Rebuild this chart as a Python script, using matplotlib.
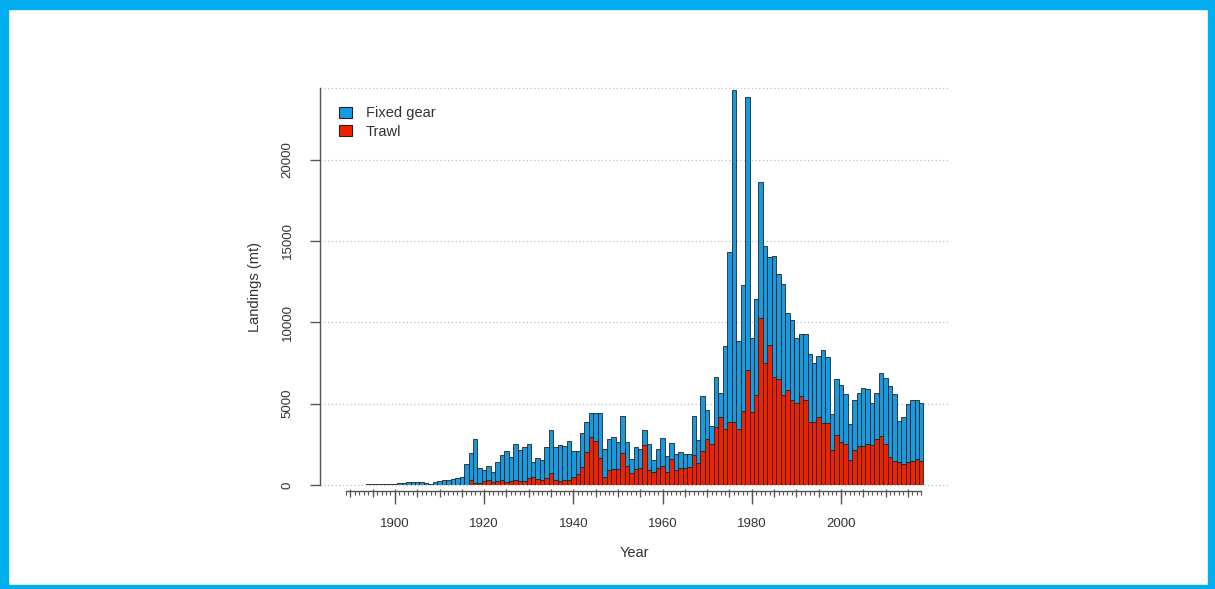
import numpy as np
import matplotlib
matplotlib.use("Agg")
import matplotlib.pyplot as plt
from matplotlib.patches import Patch, Rectangle
from matplotlib.ticker import MultipleLocator, FixedLocator

plt.rcParams['font.family'] = ['Liberation Sans', 'DejaVu Sans']

years = np.arange(1889, 2019)

# total landings (mt), 1889-2018
total = [
    20, 20, 30, 30, 30, 40, 40, 50, 60, 70, 80,                      # 1889-1899
    90, 100, 110, 170, 190, 180, 170, 120, 90, 200,                  # 1900s
    250, 290, 320, 380, 420, 480, 1320, 1970, 2850, 1020,            # 1910s
    900, 1160, 800, 1430, 1820, 2100, 1720, 2500, 2180, 2340,        # 1920s
    2530, 1410, 1660, 1530, 2350, 3350, 2310, 2450, 2420, 2720,      # 1930s
    2100, 2100, 3200, 3880, 4420, 4400, 4400, 2200, 2820, 2920,      # 1940s
    2620, 4250, 2640, 1620, 2320, 2200, 3400, 2540, 1510, 2230,      # 1950s
    2870, 1790, 2590, 1900, 2050, 1920, 1880, 4260, 2740, 5480,      # 1960s
    4580, 3610, 6620, 5640, 8570, 14300, 24300, 8880, 12290, 23850,  # 1970s
    9060, 11450, 18610, 14660, 14000, 14100, 12990, 12370, 10570, 10160,  # 1980s
    9060, 9300, 9300, 8080, 7500, 7910, 8280, 7870, 4350, 6520,      # 1990s
    6150, 5580, 3740, 5215, 5685, 5950, 5890, 5070, 5640, 6910,      # 2000s
    6560, 6090, 5580, 3950, 4150, 4970, 5235, 5235, 5010,            # 2010-2018
]

trawl = [
    0, 0, 0, 0, 0, 0, 0, 0, 0, 0, 0,
    0, 0, 0, 0, 0, 0, 0, 0, 0, 0,
    0, 0, 0, 0, 0, 0, 0, 330, 150, 100,
    270, 300, 160, 230, 280, 200, 260, 320, 270, 250,
    450, 470, 350, 320, 450, 750, 300, 270, 280, 320,
    520, 650, 1100, 2000, 2950, 2720, 1680, 520, 950, 960,
    980, 1950, 1150, 750, 1000, 1020, 2430, 920, 820, 1020,
    1170, 820, 1570, 920, 1060, 1060, 1120, 1820, 1350, 2080,
    2820, 2520, 3560, 4170, 3440, 3900, 3850, 3440, 4530, 7080,
    4500, 5520, 10290, 7500, 8590, 6650, 6545, 5520, 5830, 5215,
    5010, 5460, 5215, 3885, 3885, 4190, 3780, 3780, 2180, 3100,
    2620, 2515, 1555, 2150, 2415, 2370, 2515, 2475, 2820, 3030,
    2515, 1740, 1490, 1390, 1290, 1430, 1450, 1595, 1490,
]

total = np.array(total)
trawl = np.array(trawl)
fixed_gear = total - trawl

series_labels = ["Fixed gear", "Trawl"]
blue = "#179ADF"
red = "#EE2200"
ytick_vals = [0, 5000, 10000, 15000, 20000]
label_years = [1900, 1920, 1940, 1960, 1980, 2000]

W, H = 1215, 589
fig = plt.figure(figsize=(W / 100, H / 100), dpi=100)
ax = fig.add_axes([320 / W, (H - 485) / H, (948 - 320) / W, 397 / H])

ymax = 24400
ax.set_ylim(0, ymax)
ax.set_xlim(1883.2, 2024.0)

# grid first so bars sit on top
for v in ytick_vals + [ymax]:
    ax.axhline(v, color="#BDBDBD", lw=0.9, ls=(0, (1, 2)), zorder=0, clip_on=False)

ax.bar(years, trawl, width=1.0, color=red, edgecolor="#222222", linewidth=0.6, zorder=2)
ax.bar(years, fixed_gear, bottom=trawl, width=1.0, color=blue,
       edgecolor="#222222", linewidth=0.6, zorder=2)

for s in ["top", "right"]:
    ax.spines[s].set_visible(False)
ax.spines["left"].set_bounds(0, ymax)
ax.spines["bottom"].set_bounds(years[0], years[-1])
ax.spines["bottom"].set_position(("outward", 4))
for s in ["left", "bottom"]:
    ax.spines[s].set_color("#555555")
    ax.spines[s].set_linewidth(1.0)

ax.set_yticks(ytick_vals)
ax.set_yticklabels([str(v) for v in ytick_vals], rotation=90, va="center")
ax.tick_params(axis="y", length=7, width=1.0, color="#555555", pad=12,
               labelsize=9.5, labelcolor="#333333")

ax.xaxis.set_major_locator(FixedLocator(label_years))
ax.xaxis.set_minor_locator(FixedLocator(list(years)))
ax.set_xticklabels([str(y) for y in label_years])
ax.tick_params(axis="x", which="major", length=9, width=1.0, color="#555555",
               pad=11, labelsize=9.5, labelcolor="#333333")
ax.tick_params(axis="x", which="minor", length=3, width=0.8, color="#555555")

# 5-year ticks of medium length
sec = ax.secondary_xaxis(-4 / 397)
sec.set_xticks([y for y in years if y % 5 == 0])
sec.tick_params(length=6, width=0.9, color="#555555", labelbottom=False)
sec.spines["bottom"].set_visible(False)

fig.text(634 / W, 1 - 553 / H, "Year", ha="center", va="center",
         fontsize=10.5, color="#333333")
fig.text(255 / W, 1 - 287 / H, "Landings (mt)", ha="center", va="center",
         rotation=90, fontsize=10.5, color="#333333")

handles = [Patch(facecolor=blue, edgecolor="#222222", linewidth=0.8),
           Patch(facecolor=red, edgecolor="#222222", linewidth=0.8)]
ax.legend(handles, series_labels, loc="upper left",
          bbox_to_anchor=((332 - 320) / 628, (485 - 99) / 397),
          frameon=False, borderpad=0, handlelength=0.9, handleheight=0.75,
          handletextpad=0.9, labelspacing=0.3, fontsize=10.5, labelcolor="#333333")

# cyan frame around the figure
cyan = "#00AEEF"
fig.patches.append(Rectangle((0, 1 - 9 / H), 1, 9 / H, transform=fig.transFigure, color=cyan))
fig.patches.append(Rectangle((0, 0), 8 / W, 1, transform=fig.transFigure, color=cyan))
fig.patches.append(Rectangle((1 - 7 / W, 0), 7 / W, 1, transform=fig.transFigure, color=cyan))
fig.patches.append(Rectangle((0, 0), 1, 4 / H, transform=fig.transFigure, color=cyan))

fig.savefig("out.png", dpi=100)
